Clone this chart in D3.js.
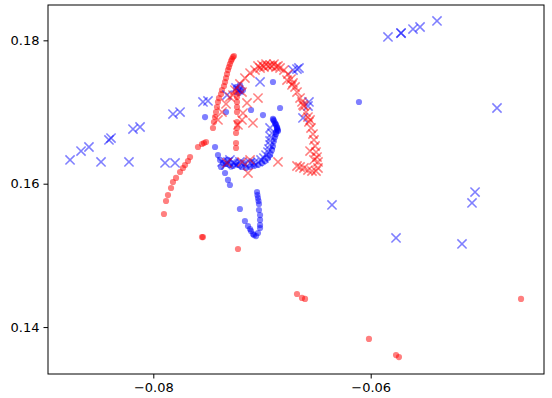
<!DOCTYPE html>
<html>
<head>
<meta charset="utf-8">
<script src="https://cdn.jsdelivr.net/npm/d3@7"></script>
<style>
  body { margin: 0; background: #fff; }
  svg { display: block; font-family: "DejaVu Sans", sans-serif; }
</style>
</head>
<body>
<div id="chart"></div>
<script>
// chart size and plot frame
var svgWidth = 552;
var svgHeight = 398;
var margin = { top: 5, right: 8, bottom: 24, left: 48 };
var width = svgWidth - margin.left - margin.right;
var height = svgHeight - margin.top - margin.bottom;

// tick labels
var xTicks = [-0.08, -0.06];
var yTicks = [0.14, 0.16, 0.18];

// blue circles
var blueDots = [
  [-0.06899, 0.16903], [-0.06890, 0.16875], [-0.06880, 0.16847], [-0.06871, 0.16819],
  [-0.06862, 0.16791], [-0.06862, 0.16763], [-0.06853, 0.16735], [-0.06871, 0.16721],
  [-0.06895, 0.16889], [-0.06875, 0.16833], [-0.06860, 0.16777], [-0.06855, 0.16749],
  [-0.07386, 0.16331], [-0.07359, 0.16289], [-0.07331, 0.16275], [-0.07295, 0.16261],
  [-0.07267, 0.16247], [-0.07221, 0.16261], [-0.07184, 0.16233], [-0.07148, 0.16219],
  [-0.07110, 0.16233], [-0.07074, 0.16247], [-0.07037, 0.16261], [-0.07000, 0.16289],
  [-0.06972, 0.16317], [-0.06945, 0.16358], [-0.06926, 0.16400], [-0.06908, 0.16470],
  [-0.06899, 0.16526], [-0.06890, 0.16596], [-0.06880, 0.16651], [-0.06871, 0.16693],
  [-0.07313, 0.16331], [-0.07239, 0.16303], [-0.07166, 0.16289], [-0.07092, 0.16303],
  [-0.07405, 0.16400], [-0.07377, 0.16233], [-0.07340, 0.16149], [-0.07313, 0.16052],
  [-0.07295, 0.15982],
  [-0.07046, 0.15884], [-0.07042, 0.15842], [-0.07037, 0.15800], [-0.07032, 0.15759],
  [-0.07028, 0.15717], [-0.07028, 0.15633], [-0.07018, 0.15563], [-0.07018, 0.15494],
  [-0.07018, 0.15424], [-0.07018, 0.15382], [-0.07037, 0.15312], [-0.07055, 0.15270],
  [-0.07074, 0.15284], [-0.07083, 0.15298], [-0.07101, 0.15340], [-0.07110, 0.15368],
  [-0.07129, 0.15410], [-0.07157, 0.15480], [-0.07203, 0.15647],
  [-0.07524, 0.16930], [-0.07331, 0.17000], [-0.07101, 0.17028], [-0.07203, 0.17377],
  [-0.06899, 0.17419], [-0.06834, 0.17056], [-0.07432, 0.16512], [-0.06108, 0.17140],
  [-0.06991, 0.16958],
  [-0.07239, 0.17349], [-0.07221, 0.17321], [-0.07193, 0.17293], [-0.07175, 0.17307],
  [-0.07212, 0.17265]
];

// blue crosses
var blueCross = [
  [-0.08766, 0.16331], [-0.08665, 0.16456], [-0.08592, 0.16512], [-0.08481, 0.16303],
  [-0.08408, 0.16610], [-0.08389, 0.16637], [-0.08224, 0.16303], [-0.08187, 0.16763],
  [-0.08122, 0.16791], [-0.07892, 0.16289], [-0.07800, 0.16289], [-0.07819, 0.16972],
  [-0.07754, 0.17000], [-0.07543, 0.17140], [-0.07497, 0.17154], [-0.07239, 0.17335],
  [-0.07212, 0.17307], [-0.07322, 0.17237], [-0.07018, 0.17419], [-0.06715, 0.17586],
  [-0.06660, 0.17614], [-0.06678, 0.17600], [-0.06568, 0.17140], [-0.06577, 0.17084],
  [-0.06623, 0.16917], [-0.05841, 0.18047], [-0.05721, 0.18102], [-0.05721, 0.18102],
  [-0.05611, 0.18158], [-0.05546, 0.18186], [-0.05390, 0.18270], [-0.04838, 0.17056],
  [-0.05040, 0.15884], [-0.05068, 0.15731], [-0.05160, 0.15159], [-0.05767, 0.15243],
  [-0.06356, 0.15703],
  [-0.06926, 0.16777], [-0.06908, 0.16707], [-0.06917, 0.16651], [-0.06926, 0.16596],
  [-0.06926, 0.16540], [-0.06936, 0.16484], [-0.06945, 0.16442], [-0.06963, 0.16400],
  [-0.06982, 0.16358], [-0.07009, 0.16331], [-0.07037, 0.16303], [-0.07074, 0.16289],
  [-0.07110, 0.16289], [-0.07157, 0.16275], [-0.07203, 0.16303], [-0.07258, 0.16289],
  [-0.07313, 0.16303], [-0.07368, 0.16303], [-0.07331, 0.16261], [-0.07295, 0.16331],
  [-0.07239, 0.16261]
];

// red circles
var redDots = [
  [-0.07902, 0.15577], [-0.07883, 0.15759], [-0.07865, 0.15842], [-0.07837, 0.15940],
  [-0.07819, 0.16024], [-0.07791, 0.16080], [-0.07754, 0.16163], [-0.07727, 0.16219],
  [-0.07708, 0.16261], [-0.07681, 0.16317], [-0.07662, 0.16372], [-0.07589, 0.16512],
  [-0.07552, 0.16554], [-0.07534, 0.16568], [-0.07515, 0.16582],
  [-0.07451, 0.16777], [-0.07442, 0.16861], [-0.07432, 0.16930], [-0.07423, 0.17000],
  [-0.07414, 0.17070], [-0.07405, 0.17140], [-0.07396, 0.17195], [-0.07377, 0.17251],
  [-0.07368, 0.17307], [-0.07350, 0.17363], [-0.07340, 0.17419], [-0.07331, 0.17474],
  [-0.07322, 0.17530], [-0.07313, 0.17586], [-0.07304, 0.17628], [-0.07295, 0.17669],
  [-0.07285, 0.17711], [-0.07276, 0.17739], [-0.07267, 0.17767], [-0.07258, 0.17781],
  [-0.07239, 0.17279], [-0.07230, 0.17209], [-0.07230, 0.17140], [-0.07230, 0.17070],
  [-0.07230, 0.17000], [-0.07230, 0.16861], [-0.07230, 0.16777], [-0.07239, 0.16707],
  [-0.07239, 0.16568], [-0.07239, 0.16498],
  [-0.06678, 0.14461], [-0.06632, 0.14406], [-0.06604, 0.14392], [-0.06016, 0.13834],
  [-0.05767, 0.13610], [-0.05740, 0.13582], [-0.04617, 0.14392], [-0.07221, 0.15089],
  [-0.07552, 0.15256], [-0.07543, 0.15256]
];

// red crosses
var redCross = [
  [-0.07405, 0.16889], [-0.07368, 0.17000], [-0.07331, 0.17112], [-0.07295, 0.17209],
  [-0.07249, 0.17307], [-0.07203, 0.17391], [-0.07157, 0.17474], [-0.07110, 0.17544],
  [-0.07064, 0.17586], [-0.07018, 0.17614], [-0.06982, 0.17628], [-0.06945, 0.17642],
  [-0.06908, 0.17642], [-0.06871, 0.17628], [-0.06834, 0.17614], [-0.06798, 0.17586],
  [-0.06761, 0.17530], [-0.06733, 0.17460], [-0.06715, 0.17405], [-0.06696, 0.17349],
  [-0.06678, 0.17279], [-0.06650, 0.17195], [-0.06632, 0.17140], [-0.06614, 0.17084],
  [-0.06595, 0.17000], [-0.06577, 0.16930], [-0.06568, 0.16861], [-0.06549, 0.16777],
  [-0.06531, 0.16693], [-0.06522, 0.16610], [-0.06512, 0.16526], [-0.06503, 0.16442],
  [-0.06494, 0.16372], [-0.06485, 0.16303], [-0.06485, 0.16219], [-0.06503, 0.16177],
  [-0.06540, 0.16177], [-0.06577, 0.16191], [-0.06614, 0.16219], [-0.06650, 0.16233],
  [-0.06678, 0.16247],
  [-0.07000, 0.17655], [-0.06963, 0.17669], [-0.06926, 0.17655], [-0.06890, 0.17669],
  [-0.07037, 0.17642], [-0.06853, 0.17642],
  [-0.06623, 0.17098], [-0.06558, 0.16889], [-0.06724, 0.17377], [-0.06770, 0.17446],
  [-0.06558, 0.16456], [-0.06522, 0.16331],
  [-0.07221, 0.16819], [-0.07083, 0.16847], [-0.07138, 0.17126], [-0.07037, 0.17195],
  [-0.07184, 0.17279], [-0.07267, 0.17237], [-0.07175, 0.16986], [-0.07184, 0.16889],
  [-0.07110, 0.16331], [-0.07129, 0.16149], [-0.06853, 0.16303], [-0.07322, 0.16289],
  [-0.07184, 0.16303]
];

var svg = d3.select("#chart").append("svg")
  .attr("width", svgWidth).attr("height", svgHeight);

var chartGroup = svg.append("g")
  .attr("transform", `translate(${margin.left}, ${margin.top})`);

var xScale = d3.scaleLinear().domain([-0.089688, -0.044056]).range([0, width]);
var yScale = d3.scaleLinear().domain([0.133453, 0.184929]).range([height, 0]);

var plot = chartGroup.append("g");

function drawDots(data, color) {
  plot.selectAll(null)
    .data(data)
    .enter()
    .append("circle")
    .attr("cx", d => xScale(d[0]))
    .attr("cy", d => yScale(d[1]))
    .attr("r", 3.1)
    .attr("fill", color)
    .attr("opacity", 0.5);
}

function drawCross(data, color) {
  var s = 4.6;
  plot.selectAll(null)
    .data(data)
    .enter()
    .append("path")
    .attr("transform", d => `translate(${xScale(d[0])}, ${yScale(d[1])})`)
    .attr("d", `M${-s},${-s}L${s},${s}M${-s},${s}L${s},${-s}`)
    .attr("stroke", color)
    .attr("stroke-width", 1.5)
    .attr("fill", "none")
    .attr("opacity", 0.5);
}

drawDots(blueDots, "#0000ff");
drawDots(redDots, "#ff0000");
drawCross(blueCross, "#0000ff");
drawCross(redCross, "#ff0000");

var bottomAxis = d3.axisBottom(xScale)
  .tickValues(xTicks).tickFormat(d3.format(".2f")).tickSizeOuter(0).tickSize(4.5).tickPadding(4);
var leftAxis = d3.axisLeft(yScale)
  .tickValues(yTicks).tickFormat(d3.format(".2f")).tickSizeOuter(0).tickSize(4.5).tickPadding(4);

var xAxis = chartGroup.append("g")
  .attr("transform", `translate(0, ${height})`)
  .call(bottomAxis);
var yAxis = chartGroup.append("g").call(leftAxis);

[xAxis, yAxis].forEach(function(ax) {
  ax.select(".domain").remove();
  ax.selectAll("text").attr("font-size", 13).attr("font-family", "DejaVu Sans").attr("fill", "#000");
  ax.selectAll("line").attr("stroke", "#000").attr("stroke-width", 1);
});

// frame
chartGroup.append("rect")
  .attr("x", 0).attr("y", 0)
  .attr("width", width).attr("height", height)
  .attr("fill", "none")
  .attr("stroke", "#000")
  .attr("stroke-width", 1);
</script>
</body>
</html>
